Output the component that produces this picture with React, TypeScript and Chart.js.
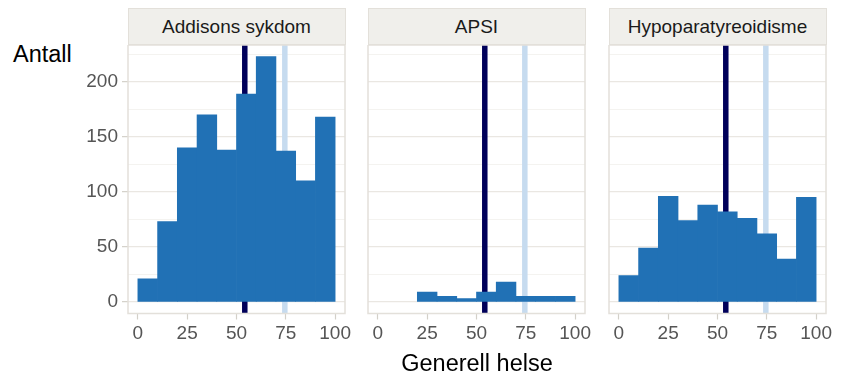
import React, { useEffect, useRef } from "react";
import { Chart, registerables } from "chart.js";

Chart.register(...registerables);

// Histogram bins (width 10) of "Generell helse" score, one count per bin
const binMids = [5, 15, 25, 35, 45, 55, 65, 75, 85, 95];
const addisonsCounts = [21, 73, 140, 170, 138, 189, 223, 137, 110, 168];
const apsiCounts = [0, 0, 9, 5, 3, 9, 18, 5, 5, 5];
const hypoparaCounts = [24, 49, 96, 74, 88, 82, 76, 62, 39, 95];

const panelTitles = ["Addisons sykdom", "APSI", "Hypoparatyreoidisme"];

// Reference lines drawn across every panel
const patientLine = 54.2;
const normLine = 74.5;

const xTickValues = [0, 25, 50, 75, 100];
const yGridValues = [0, 25, 50, 75, 100, 125, 150, 175, 200, 225];
const yLabelValues = [0, 50, 100, 150, 200];

const X_MIN = -5;
const X_MAX = 105;
const Y_MAX = 233.5;
const Y_MIN = -10.5;

const FONT = '"Liberation Sans", Arial, sans-serif';
const BAR_COLOR = "#2171B5";
const NAVY = "#00005A";
const LIGHT_BLUE = "#C6DBEF";
const TICK_TEXT = "#555555";
const FRAME = "#E3E0DA";
const TICK_MARK = "#D3D0C9";
const TICK_SIZE = 19;
const TITLE_SIZE = 23.5;

const PLOT_TOP = 45;
const PLOT_HEIGHT = 268.5;
const CANVAS_HEIGHT = 377 - PLOT_TOP;

type PanelLayout = {
  canvasLeft: number;
  canvasWidth: number;
  plotLeft: number;
  plotRight: number;
};

const layouts: PanelLayout[] = [
  { canvasLeft: 0, canvasWidth: 356, plotLeft: 128, plotRight: 345 },
  { canvasLeft: 356, canvasWidth: 240, plotLeft: 368, plotRight: 585 },
  { canvasLeft: 596, canvasWidth: 247, plotLeft: 609, plotRight: 826 },
];

const panelFrame = {
  id: "panelFrame",
  afterDraw(chart: any) {
    const { left, top, right, bottom } = chart.chartArea;
    const ctx = chart.ctx;
    ctx.save();
    ctx.strokeStyle = FRAME;
    ctx.lineWidth = 1.5;
    ctx.strokeRect(left, top, right - left, bottom - top);
    ctx.restore();
  },
};

function isMajor(v: number) {
  return yLabelValues.includes(v);
}

function Panel({
  counts,
  showY,
  layout,
}: {
  counts: number[];
  showY: boolean;
  layout: PanelLayout;
}) {
  const ref = useRef<HTMLCanvasElement>(null);

  useEffect(() => {
    if (!ref.current) return;
    const chart = new Chart(ref.current, {
      type: "bar",
      data: {
        datasets: [
          {
            type: "bar",
            data: binMids.map((x, i) => ({ x, y: counts[i] })),
            // empty bins leave no mark
            backgroundColor: (ctx: any) =>
              ctx.raw && ctx.raw.y === 0 ? "rgba(0,0,0,0)" : BAR_COLOR,
            borderWidth: 0,
            barPercentage: 1,
            categoryPercentage: 1,
            order: 0,
          },
          {
            type: "line",
            data: [
              { x: patientLine, y: Y_MIN },
              { x: patientLine, y: Y_MAX },
            ],
            borderColor: NAVY,
            borderWidth: 5.5,
            borderCapStyle: "butt",
            pointRadius: 0,
            order: 1,
          },
          {
            type: "line",
            data: [
              { x: normLine, y: Y_MIN },
              { x: normLine, y: Y_MAX },
            ],
            borderColor: LIGHT_BLUE,
            borderWidth: 5.5,
            borderCapStyle: "butt",
            pointRadius: 0,
            order: 2,
          },
        ],
      } as any,
      options: {
        responsive: false,
        animation: false,
        devicePixelRatio: 1,
        events: [],
        layout: {
          padding: {
            left: 0,
            top: 0,
            bottom: 0,
            right: layout.canvasLeft + layout.canvasWidth - layout.plotRight,
          },
        },
        plugins: {
          legend: { display: false },
          tooltip: { enabled: false },
        },
        scales: {
          x: {
            type: "linear",
            min: X_MIN,
            max: X_MAX,
            offset: false,
            afterBuildTicks: (s: any) => {
              s.ticks = xTickValues.map((value) => ({ value }));
            },
            afterFit: (s: any) => {
              s.height = CANVAS_HEIGHT - PLOT_HEIGHT;
              s.paddingLeft = 0;
              s.paddingRight = 0;
            },
            grid: {
              drawOnChartArea: false,
              drawTicks: true,
              tickLength: 6,
              tickColor: TICK_MARK,
              tickWidth: 1.2,
              offset: false,
            },
            border: { display: false },
            ticks: {
              color: TICK_TEXT,
              font: { family: FONT, size: TICK_SIZE },
              padding: 3,
              maxRotation: 0,
              autoSkip: false,
            },
          },
          y: {
            type: "linear",
            min: Y_MIN,
            max: Y_MAX,
            afterBuildTicks: (s: any) => {
              s.ticks = yGridValues.map((value) => ({ value }));
            },
            afterFit: (s: any) => {
              s.width = layout.plotLeft - layout.canvasLeft;
              s.paddingTop = 0;
              s.paddingBottom = 0;
            },
            grid: {
              drawOnChartArea: true,
              drawTicks: showY,
              tickLength: 6,
              color: (ctx: any) =>
                isMajor(ctx.tick?.value) ? "#EAE7E2" : "#F4F3F0",
              lineWidth: (ctx: any) => (isMajor(ctx.tick?.value) ? 1.3 : 1),
              tickColor: (ctx: any) =>
                isMajor(ctx.tick?.value) ? TICK_MARK : "rgba(0,0,0,0)",
              tickWidth: 1.2,
            },
            border: { display: false },
            ticks: {
              display: showY,
              color: TICK_TEXT,
              font: { family: FONT, size: TICK_SIZE },
              padding: 4,
              autoSkip: false,
              callback: (v: any) => (isMajor(v) ? String(v) : ""),
            },
          },
        },
      } as any,
      plugins: [panelFrame],
    });
    return () => chart.destroy();
  }, [counts, showY, layout]);

  return (
    <canvas
      ref={ref}
      width={layout.canvasWidth}
      height={CANVAS_HEIGHT}
      style={{
        position: "absolute",
        left: layout.canvasLeft,
        top: PLOT_TOP,
        width: layout.canvasWidth,
        height: CANVAS_HEIGHT,
        display: "block",
      }}
    />
  );
}

function Strip({ title, layout }: { title: string; layout: PanelLayout }) {
  return (
    <div
      style={{
        position: "absolute",
        left: layout.plotLeft - 0.5,
        top: 8,
        width: layout.plotRight - layout.plotLeft + 1,
        height: 37,
        boxSizing: "border-box",
        border: `1.5px solid ${FRAME}`,
        background: "#F0EFEB",
        display: "flex",
        alignItems: "center",
        justifyContent: "center",
        paddingTop: 1,
        fontFamily: FONT,
        fontSize: TICK_SIZE,
        color: "#1A1A1A",
        whiteSpace: "nowrap",
      }}
    >
      {title}
    </div>
  );
}

const panelCounts = [addisonsCounts, apsiCounts, hypoparaCounts];

export default function App() {
  return (
    <div
      style={{
        position: "absolute",
        left: 0,
        top: 0,
        width: 843,
        height: 377,
        background: "#FFFFFF",
        overflow: "hidden",
      }}
    >
      <div
        style={{
          position: "absolute",
          left: 13,
          top: 43,
          fontFamily: FONT,
          fontSize: TITLE_SIZE,
          lineHeight: `${TITLE_SIZE}px`,
          color: "#000000",
        }}
      >
        Antall
      </div>
      {layouts.map((layout, i) => (
        <Strip key={"s" + i} title={panelTitles[i]} layout={layout} />
      ))}
      {layouts.map((layout, i) => (
        <Panel
          key={"p" + i}
          counts={panelCounts[i]}
          showY={i === 0}
          layout={layout}
        />
      ))}
      <div
        style={{
          position: "absolute",
          left: 128,
          width: 698,
          top: 352,
          textAlign: "center",
          fontFamily: FONT,
          fontSize: TITLE_SIZE,
          lineHeight: `${TITLE_SIZE}px`,
          color: "#000000",
        }}
      >
        Generell helse
      </div>
    </div>
  );
}
